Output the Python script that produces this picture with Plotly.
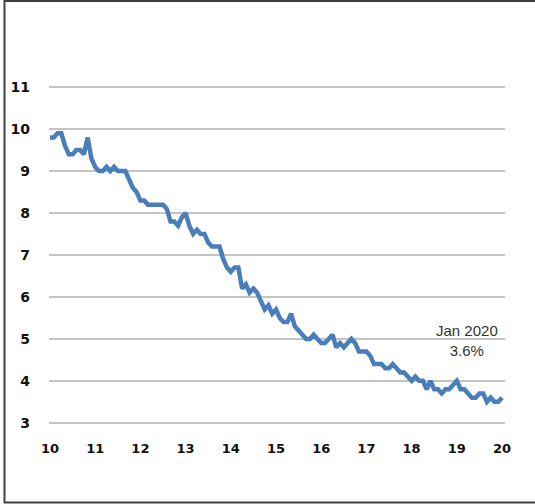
import plotly.graph_objects as go

# Monthly unemployment rate (%), Jan 2010 - Jan 2020
rate_2010 = [9.8, 9.8, 9.9, 9.9, 9.6, 9.4, 9.4, 9.5, 9.5, 9.4, 9.8, 9.3]
rate_2011 = [9.1, 9.0, 9.0, 9.1, 9.0, 9.1, 9.0, 9.0, 9.0, 8.8, 8.6, 8.5]
rate_2012 = [8.3, 8.3, 8.2, 8.2, 8.2, 8.2, 8.2, 8.1, 7.8, 7.8, 7.7, 7.9]
rate_2013 = [8.0, 7.7, 7.5, 7.6, 7.5, 7.5, 7.3, 7.2, 7.2, 7.2, 6.9, 6.7]
rate_2014 = [6.6, 6.7, 6.7, 6.2, 6.3, 6.1, 6.2, 6.1, 5.9, 5.7, 5.8, 5.6]
rate_2015 = [5.7, 5.5, 5.4, 5.4, 5.6, 5.3, 5.2, 5.1, 5.0, 5.0, 5.1, 5.0]
rate_2016 = [4.9, 4.9, 5.0, 5.1, 4.8, 4.9, 4.8, 4.9, 5.0, 4.9, 4.7, 4.7]
rate_2017 = [4.7, 4.6, 4.4, 4.4, 4.4, 4.3, 4.3, 4.4, 4.3, 4.2, 4.2, 4.1]
rate_2018 = [4.0, 4.1, 4.0, 4.0, 3.8, 4.0, 3.8, 3.8, 3.7, 3.8, 3.8, 3.9]
rate_2019 = [4.0, 3.8, 3.8, 3.7, 3.6, 3.6, 3.7, 3.7, 3.5, 3.6, 3.5, 3.5]
rate_2020 = [3.6]

rates = (rate_2010 + rate_2011 + rate_2012 + rate_2013 + rate_2014 + rate_2015
         + rate_2016 + rate_2017 + rate_2018 + rate_2019 + rate_2020)
months = [2010 + i / 12 for i in range(len(rates))]

year_ticks = list(range(2010, 2021))
year_labels = [str(y % 100) for y in year_ticks]
y_ticks = list(range(3, 12))

W, H = 535, 504
L, R, T, B = 49, 30, 83, 77
pw, ph = W - L - R, H - T - B


def px_x(p):
    return (p - L) / pw


def px_y(p):
    return 1 - (p - T) / ph


fig = go.Figure()
fig.add_trace(go.Scatter(
    x=months, y=rates, mode="lines",
    line=dict(color="#4A7EBB", width=4.5),
    hoverinfo="skip", showlegend=False,
))

fig.add_annotation(
    x=months[-1], y=rates[-1], xref="x", yref="y",
    text="Jan 2020<br>3.6%", showarrow=False,
    xshift=-35, yshift=57, align="center",
    font=dict(family="Liberation Sans, Arial", size=15, color="#333333"),
)

# outer frame (open on the right)
fig.add_shape(
    type="rect", xref="paper", yref="paper",
    x0=px_x(4.5), x1=px_x(600), y0=px_y(1), y1=px_y(502.5),
    line=dict(color="#404040", width=2), fillcolor="rgba(0,0,0,0)",
    layer="above",
)

x_font = dict(family="DejaVu Sans", size=13, color="#111111", weight="bold")
y_font = dict(family="DejaVu Sans", size=14, color="#111111", weight="bold")

fig.update_layout(
    width=W, height=H,
    margin=dict(l=L, r=R, t=T, b=B, pad=0),
    paper_bgcolor="white", plot_bgcolor="white",
    xaxis=dict(
        range=[2010 - 1 / 45.2, 2020 + 3 / 45.2],
        tickvals=year_ticks, ticktext=year_labels,
        showgrid=False, zeroline=False, showline=False,
        ticks="", tickfont=x_font, ticklabelstandoff=12,
    ),
    yaxis=dict(
        range=[2.9, 11.1], tickvals=y_ticks,
        showgrid=True, gridcolor="#C4C4C4", gridwidth=1.5,
        zeroline=False, showline=False,
        ticks="", tickfont=y_font, ticklabelstandoff=18,
    ),
)

fig.write_html("out.html")
